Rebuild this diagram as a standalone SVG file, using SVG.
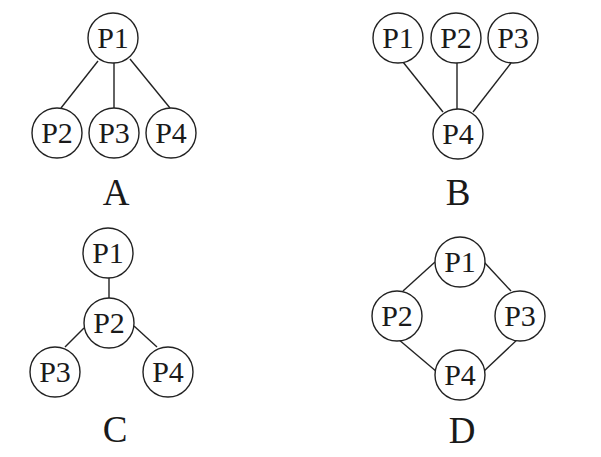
<svg xmlns="http://www.w3.org/2000/svg" width="601" height="457" viewBox="0 0 601 457">
<style>
.n circle{fill:#fff;stroke:#222;stroke-width:1.4}
.n text,.lbl{font-family:"Liberation Serif","Times New Roman",serif;fill:#1a1a1a;text-anchor:middle}
.n text{font-size:30px}
.lbl{font-size:37px}
.e line{stroke:#222;stroke-width:1.4}
</style>
<rect width="601" height="457" fill="#fff"/>
<g id="connectors" class="e">
<line x1="98" y1="61" x2="61" y2="108"/>
<line x1="114" y1="63" x2="114" y2="108"/>
<line x1="130" y1="59" x2="170" y2="108"/>
<line x1="403" y1="62" x2="443" y2="112"/>
<line x1="457" y1="63" x2="457" y2="109"/>
<line x1="511" y1="63" x2="473" y2="112"/>
<line x1="109" y1="278" x2="109" y2="298"/>
<line x1="84" y1="328" x2="65" y2="347"/>
<line x1="134" y1="326" x2="157" y2="347"/>
<line x1="435" y1="262" x2="403" y2="291"/>
<line x1="484" y1="262" x2="511" y2="291"/>
<line x1="398" y1="339" x2="437" y2="372"/>
<line x1="519" y1="338" x2="483" y2="372"/>
</g>
<g id="A-P1" class="n"><circle cx="113" cy="38" r="25"/><text x="113" y="48">P1</text></g>
<g id="A-P2" class="n"><circle cx="57" cy="133" r="25"/><text x="57" y="143">P2</text></g>
<g id="A-P3" class="n"><circle cx="114" cy="133" r="25"/><text x="114" y="143">P3</text></g>
<g id="A-P4" class="n"><circle cx="171" cy="133" r="25"/><text x="171" y="143">P4</text></g>
<text class="lbl" x="116" y="205">A</text>
<g id="B-P1" class="n"><circle cx="398" cy="38" r="25"/><text x="398" y="48">P1</text></g>
<g id="B-P2" class="n"><circle cx="456" cy="38" r="25"/><text x="456" y="48">P2</text></g>
<g id="B-P3" class="n"><circle cx="513" cy="38" r="25"/><text x="513" y="48">P3</text></g>
<g id="B-P4" class="n"><circle cx="458" cy="134" r="25"/><text x="458" y="144">P4</text></g>
<text class="lbl" x="458" y="205">B</text>
<g id="C-P1" class="n"><circle cx="108" cy="253" r="25"/><text x="108" y="263">P1</text></g>
<g id="C-P2" class="n"><circle cx="109" cy="323" r="25"/><text x="109" y="333">P2</text></g>
<g id="C-P3" class="n"><circle cx="55" cy="372" r="25"/><text x="55" y="382">P3</text></g>
<g id="C-P4" class="n"><circle cx="168" cy="372" r="25"/><text x="168" y="382">P4</text></g>
<text class="lbl" x="115" y="442">C</text>
<g id="D-P1" class="n"><circle cx="460" cy="262" r="25"/><text x="460" y="272">P1</text></g>
<g id="D-P2" class="n"><circle cx="397" cy="316" r="25"/><text x="397" y="326">P2</text></g>
<g id="D-P3" class="n"><circle cx="520" cy="316" r="25"/><text x="520" y="326">P3</text></g>
<g id="D-P4" class="n"><circle cx="460" cy="375" r="25"/><text x="460" y="385">P4</text></g>
<text class="lbl" x="462" y="443">D</text>
</svg>
